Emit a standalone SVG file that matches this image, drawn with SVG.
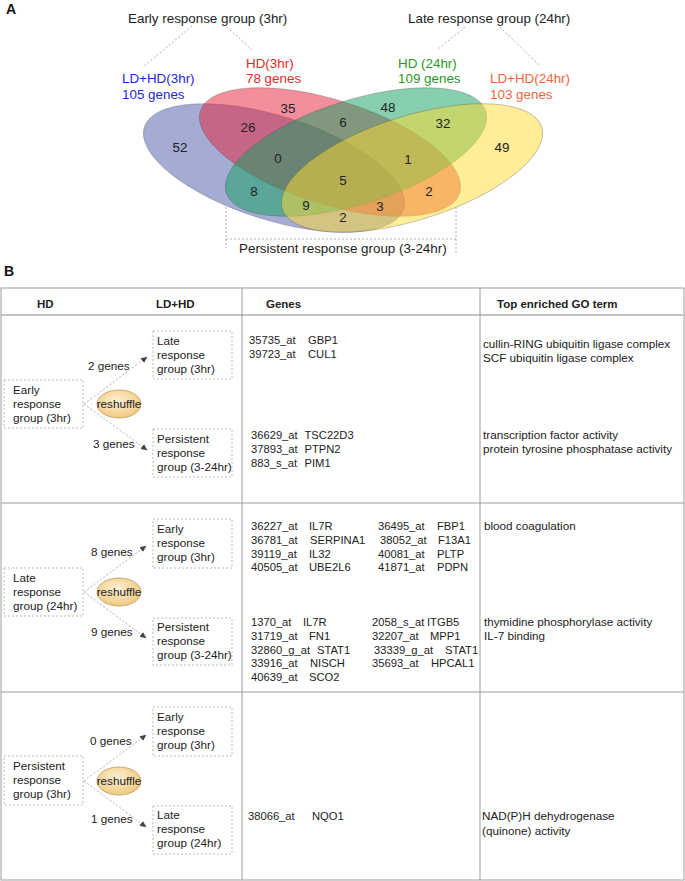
<svg xmlns="http://www.w3.org/2000/svg" width="685" height="881" viewBox="0 0 685 881">
<defs>
<style>
text { font-family: "Liberation Sans", Arial, sans-serif; }
.num { font-size: 13.4px; fill: #222; text-anchor: middle; }
.lbl { font-size: 13.4px; fill: #222; }
.pl { font-size: 14px; font-weight: bold; fill: #111; }
.tb { font-size: 11.7px; fill: #222; }
.gn { font-size: 11.2px; fill: #222; }
.hd { font-size: 11.5px; font-weight: bold; fill: #222; }
.grid { stroke: #9c9c9c; stroke-width: 1; fill: none; }
.box { fill: none; stroke: #aaa; stroke-width: 0.8; stroke-dasharray: 2 2; }
.lead { stroke: #999; stroke-width: 0.8; stroke-dasharray: 2 2; fill: none; }
.arr { stroke: #999; stroke-width: 0.8; stroke-dasharray: 2 2; fill: none; marker-end: url(#ah); }
.ell { fill-opacity: 0.5; stroke: #555; stroke-opacity: 0.45; stroke-width: 0.7; }
.rs { fill: url(#rg); stroke: #c09a5a; stroke-width: 0.8; }
</style>
<marker id="ah" markerUnits="userSpaceOnUse" markerWidth="7" markerHeight="7" refX="6" refY="3.5" orient="auto">
<path d="M0,0.5 L6.5,3.5 L0,6.5 z" fill="#444"/>
</marker>
<radialGradient id="rg" cx="0.45" cy="0.4" r="0.65">
<stop offset="0" stop-color="#fdf1d6"/>
<stop offset="1" stop-color="#f0c67a"/>
</radialGradient>
</defs>
<rect width="685" height="881" fill="#fff"/>

<!-- Panel A -->
<text class="pl" x="6" y="14">A</text>
<g id="venn">
<ellipse id="set-ldhd3" class="ell" cx="274" cy="168" rx="136" ry="52" fill="#4a5aa8" transform="rotate(17.5 274 168)"/>
<ellipse id="set-hd3" class="ell" cx="330" cy="152" rx="136" ry="52" fill="#e8203a" transform="rotate(17.5 330 152)"/>
<ellipse id="set-hd24" class="ell" cx="356" cy="152" rx="136" ry="52" fill="#10a060" transform="rotate(-17.5 356 152)"/>
<ellipse id="set-ldhd24" class="ell" cx="412" cy="168" rx="136" ry="52" fill="#ffdc30" transform="rotate(-17.5 412 168)"/>
</g>
<g id="venn-counts">
<text class="num" x="180" y="152">52</text>
<text class="num" x="288" y="113">35</text>
<text class="num" x="388" y="112">48</text>
<text class="num" x="502" y="152">49</text>
<text class="num" x="248" y="132">26</text>
<text class="num" x="343" y="127">6</text>
<text class="num" x="443" y="128">32</text>
<text class="num" x="278" y="163">0</text>
<text class="num" x="408" y="164">1</text>
<text class="num" x="343" y="185">5</text>
<text class="num" x="254" y="196">8</text>
<text class="num" x="429" y="196">2</text>
<text class="num" x="306" y="210">9</text>
<text class="num" x="380" y="211">3</text>
<text class="num" x="343" y="222">2</text>
</g>
<g id="label-early"><text class="lbl" x="128" y="23">Early response group (3hr)</text></g>
<g id="label-late"><text class="lbl" x="408" y="23">Late response group (24hr)</text></g>
<g id="label-ldhd3"><text class="lbl" x="122" y="83" style="fill:#2626dc">LD+HD(3hr)</text><text class="lbl" x="122" y="99" style="fill:#2626dc">105 genes</text></g>
<g id="label-hd3"><text class="lbl" x="246" y="68" style="fill:#e52a2a">HD(3hr)</text><text class="lbl" x="246" y="83" style="fill:#e52a2a">78 genes</text></g>
<g id="label-hd24"><text class="lbl" x="398" y="68" style="fill:#2a982a">HD (24hr)</text><text class="lbl" x="398" y="83" style="fill:#2a982a">109 genes</text></g>
<g id="label-ldhd24"><text class="lbl" x="490" y="83" style="fill:#f0653a">LD+HD(24hr)</text><text class="lbl" x="490" y="99" style="fill:#f0653a">103 genes</text></g>
<g id="label-persistent"><text class="lbl" x="239" y="253">Persistent response group (3-24hr)</text></g>

<g id="connectors">
<path class="lead" d="M192,26 L143,67 M227,27 L252,50"/>
<path class="lead" d="M465,27 L437,50 M500,27 L540,66"/>
<path class="lead" d="M226,207 V248 M226,239 H456 M456,207 V253"/>
<line class="arr" x1="84" y1="404" x2="147" y2="357"/>
<line class="arr" x1="84" y1="404" x2="147" y2="450"/>
<line class="arr" x1="84" y1="592" x2="146" y2="546"/>
<line class="arr" x1="84" y1="592" x2="146" y2="638"/>
<line class="arr" x1="84" y1="781" x2="146" y2="735"/>
<line class="arr" x1="84" y1="781" x2="146" y2="827"/>
</g>

<!-- Panel B -->
<text class="pl" x="4" y="276">B</text>
<g id="table-grid">
<rect class="grid" x="1" y="288" width="683" height="592"/>
<line class="grid" x1="1" y1="315" x2="684" y2="315" style="stroke-width:1.4;stroke:#b0b0b0"/>
<line class="grid" x1="1" y1="503" x2="684" y2="503"/>
<line class="grid" x1="1" y1="692" x2="684" y2="692"/>
<line class="grid" x1="242" y1="288" x2="242" y2="880"/>
<line class="grid" x1="480" y1="288" x2="480" y2="880"/>
</g>
<g id="table-header">
<text class="hd" x="37" y="308">HD</text>
<text class="hd" x="156" y="308">LD+HD</text>
<text class="hd" x="266" y="308">Genes</text>
<text class="hd" x="497" y="308">Top enriched GO term</text>
</g>

<!-- Row 1 -->
<g id="r1-early">
<rect class="box" x="4" y="380" width="79" height="48"/>
<text class="tb" x="13" y="394">Early</text><text class="tb" x="13" y="408">response</text><text class="tb" x="13" y="422">group (3hr)</text>
</g>
<g id="r1-reshuffle"><ellipse class="rs" cx="119" cy="404" rx="22" ry="14"/><text class="tb" x="119" y="408" text-anchor="middle">reshuffle</text></g>
<g id="r1-late">
<rect class="box" x="153" y="331" width="79" height="48"/>
<text class="tb" x="157" y="344.5">Late</text><text class="tb" x="157" y="358.5">response</text><text class="tb" x="157" y="372.5">group (3hr)</text>
</g>
<g id="r1-persistent">
<rect class="box" x="153" y="429" width="79" height="48"/>
<text class="tb" x="157" y="442.5">Persistent</text><text class="tb" x="157" y="456.5">response</text><text class="tb" x="157" y="470.5">group (3-24hr)</text>
</g>
<g id="r1-counts"><text class="tb" x="88" y="370">2 genes</text><text class="tb" x="93" y="448">3 genes</text></g>
<g id="r1-genes">
<text class="gn" x="249" y="344">35735_at</text><text class="gn" x="308" y="344">GBP1</text>
<text class="gn" x="249" y="357.5">39723_at</text><text class="gn" x="308" y="357.5">CUL1</text>
<text class="gn" x="251" y="439">36629_at</text><text class="gn" x="304.5" y="439">TSC22D3</text>
<text class="gn" x="251" y="453">37893_at</text><text class="gn" x="304.5" y="453">PTPN2</text>
<text class="gn" x="251" y="467">883_s_at</text><text class="gn" x="304.5" y="467">PIM1</text>
</g>
<g id="r1-go">
<text class="tb" x="483" y="348">cullin-RING ubiquitin ligase complex</text>
<text class="tb" x="483" y="362">SCF ubiquitin ligase complex</text>
<text class="tb" x="483" y="439">transcription factor activity</text>
<text class="tb" x="483" y="453">protein tyrosine phosphatase activity</text>
</g>

<!-- Row 2 -->
<g id="r2-late">
<rect class="box" x="4" y="568" width="79" height="48"/>
<text class="tb" x="13" y="582">Late</text><text class="tb" x="13" y="596">response</text><text class="tb" x="13" y="610">group (24hr)</text>
</g>
<g id="r2-reshuffle"><ellipse class="rs" cx="119" cy="592" rx="22" ry="14"/><text class="tb" x="119" y="596" text-anchor="middle">reshuffle</text></g>
<g id="r2-early">
<rect class="box" x="153" y="519" width="79" height="49"/>
<text class="tb" x="157" y="532.5">Early</text><text class="tb" x="157" y="546.5">response</text><text class="tb" x="157" y="560.5">group (3hr)</text>
</g>
<g id="r2-persistent">
<rect class="box" x="153" y="618" width="79" height="47"/>
<text class="tb" x="157" y="631">Persistent</text><text class="tb" x="157" y="645">response</text><text class="tb" x="157" y="659">group (3-24hr)</text>
</g>
<g id="r2-counts"><text class="tb" x="91" y="556">8 genes</text><text class="tb" x="91" y="636">9 genes</text></g>
<g id="r2-genes">
<text class="gn" x="251" y="530">36227_at</text><text class="gn" x="309" y="530">IL7R</text>
<text class="gn" x="251" y="543.8">36781_at</text><text class="gn" x="310" y="543.8">SERPINA1</text>
<text class="gn" x="251" y="557.6">39119_at</text><text class="gn" x="309" y="557.6">IL32</text>
<text class="gn" x="251" y="571.4">40505_at</text><text class="gn" x="309" y="571.4">UBE2L6</text>
<text class="gn" x="378" y="530">36495_at</text><text class="gn" x="437" y="530">FBP1</text>
<text class="gn" x="380" y="543.8">38052_at</text><text class="gn" x="438" y="543.8">F13A1</text>
<text class="gn" x="378" y="557.6">40081_at</text><text class="gn" x="437" y="557.6">PLTP</text>
<text class="gn" x="378" y="571.4">41871_at</text><text class="gn" x="437" y="571.4">PDPN</text>
<text class="gn" x="251" y="626">1370_at</text><text class="gn" x="303" y="626">IL7R</text>
<text class="gn" x="251" y="639.8">31719_at</text><text class="gn" x="309" y="639.8">FN1</text>
<text class="gn" x="251" y="653.6">32860_g_at</text><text class="gn" x="317" y="653.6">STAT1</text>
<text class="gn" x="251" y="667.4">33916_at</text><text class="gn" x="310" y="667.4">NISCH</text>
<text class="gn" x="251" y="681.2">40639_at</text><text class="gn" x="309" y="681.2">SCO2</text>
<text class="gn" x="372" y="626">2058_s_at</text><text class="gn" x="427" y="626">ITGB5</text>
<text class="gn" x="372" y="639.8">32207_at</text><text class="gn" x="430" y="639.8">MPP1</text>
<text class="gn" x="374" y="653.6">33339_g_at</text><text class="gn" x="445" y="653.6">STAT1</text>
<text class="gn" x="372" y="667.4">35693_at</text><text class="gn" x="431" y="667.4">HPCAL1</text>
</g>
<g id="r2-go">
<text class="tb" x="484" y="530">blood coagulation</text>
<text class="tb" x="484" y="626">thymidine phosphorylase activity</text>
<text class="tb" x="484" y="640">IL-7 binding</text>
</g>

<!-- Row 3 -->
<g id="r3-persistent">
<rect class="box" x="4" y="756" width="79" height="49"/>
<text class="tb" x="13" y="769.5">Persistent</text><text class="tb" x="13" y="783.5">response</text><text class="tb" x="13" y="797.5">group (3hr)</text>
</g>
<g id="r3-reshuffle"><ellipse class="rs" cx="119" cy="781" rx="22" ry="14"/><text class="tb" x="119" y="785" text-anchor="middle">reshuffle</text></g>
<g id="r3-early">
<rect class="box" x="153" y="707" width="79" height="49"/>
<text class="tb" x="157" y="720.5">Early</text><text class="tb" x="157" y="734.5">response</text><text class="tb" x="157" y="748.5">group (3hr)</text>
</g>
<g id="r3-late">
<rect class="box" x="153" y="806" width="79" height="48"/>
<text class="tb" x="157" y="819">Late</text><text class="tb" x="157" y="833">response</text><text class="tb" x="157" y="847">group (24hr)</text>
</g>
<g id="r3-counts"><text class="tb" x="90" y="745">0 genes</text><text class="tb" x="91" y="823">1 genes</text></g>
<g id="r3-genes"><text class="gn" x="248" y="820">38066_at</text><text class="gn" x="312" y="820">NQO1</text></g>
<g id="r3-go">
<text class="tb" x="482" y="820">NAD(P)H dehydrogenase</text>
<text class="tb" x="482" y="835">(quinone) activity</text>
</g>
</svg>
